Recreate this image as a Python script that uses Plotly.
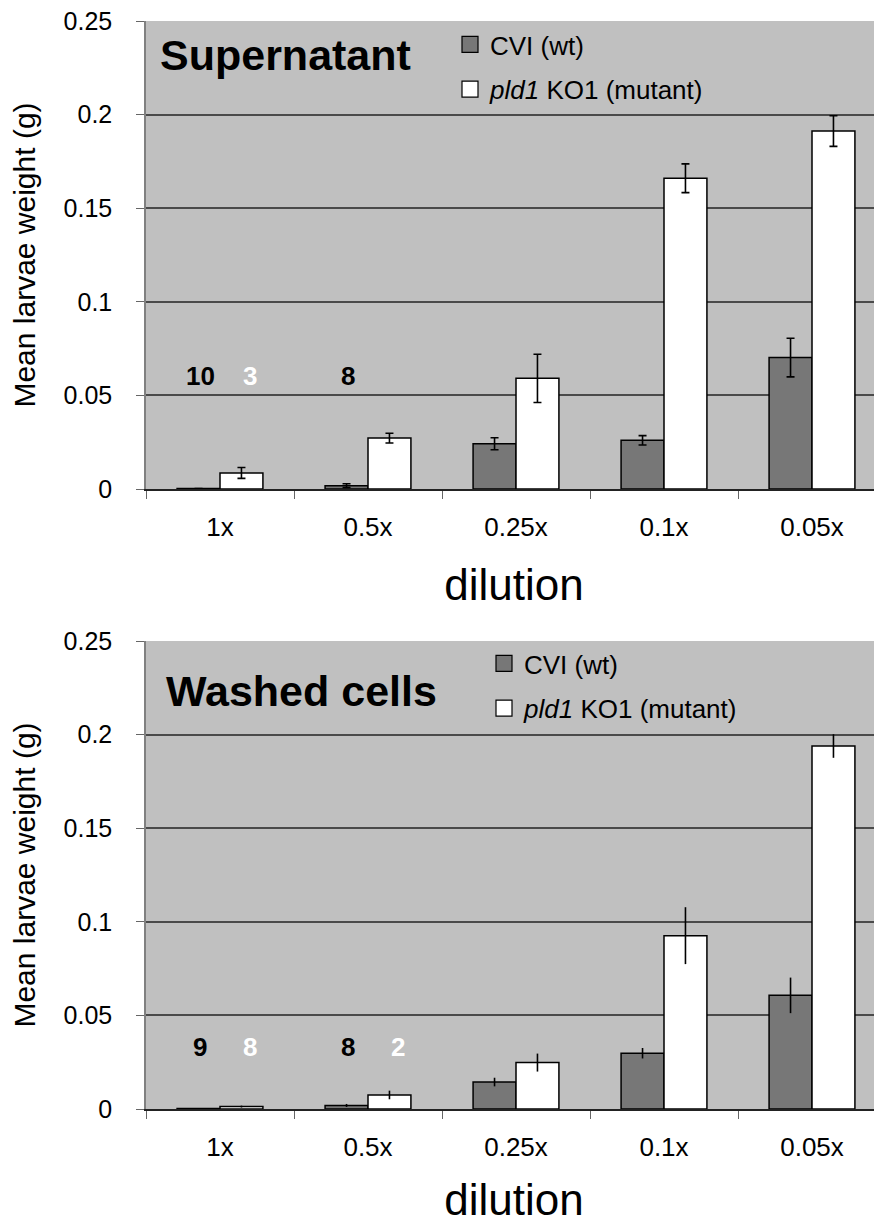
import plotly.graph_objects as go

# ---------------- data ----------------
categories = ["1x", "0.5x", "0.25x", "0.1x", "0.05x"]

sup_wt = [0.0003, 0.0018, 0.0242, 0.0260, 0.0702]
sup_wt_err = [0.0, 0.0010, 0.0032, 0.0025, 0.0103]
sup_mut = [0.0086, 0.0272, 0.0591, 0.1660, 0.1912]
sup_mut_err = [0.0029, 0.0026, 0.0129, 0.0077, 0.0082]

wash_wt = [0.0003, 0.0019, 0.0144, 0.0298, 0.0607]
wash_wt_err = [0.0, 0.0008, 0.0023, 0.0028, 0.0095]
wash_mut = [0.0013, 0.0075, 0.0248, 0.0926, 0.1939]
wash_mut_err = [0.0005, 0.0023, 0.0048, 0.0152, 0.0063]

sup_wt_counts = ["10", "8", "", "", ""]
sup_mut_counts = ["3", "", "", "", ""]
wash_wt_counts = ["9", "8", "", "", ""]
wash_mut_counts = ["8", "2", "", "", ""]
sup_count_y = 0.0605
wash_count_y = 0.033

y_ticks = [0, 0.05, 0.1, 0.15, 0.2, 0.25]
y_tick_labels = ["0", "0.05", "0.1", "0.15", "0.2", "0.25"]

names = ["CVI (wt)", "<i>pld1</i> KO1 (mutant)"]
panel_titles = ["Supernatant", "Washed cells"]

# ---------------- styles ----------------
FONT = "Liberation Sans, Arial, sans-serif"
WT_COLOR = "#777777"
MUT_COLOR = "#FFFFFF"
BG = "#C0C0C0"
GRID = "#4a4a4a"

# page body has an 8px margin; figure sized to fit the 882x1224 window
W, H = 874, 1216

fig = go.Figure()

panels = [
    dict(wt=sup_wt, wte=sup_wt_err, mut=sup_mut, mute=sup_mut_err,
         wtc=sup_wt_counts, mutc=sup_mut_counts, cy=sup_count_y,
         xa="x", ya="y", legend="legend", capw=4),
    dict(wt=wash_wt, wte=wash_wt_err, mut=wash_mut, mute=wash_mut_err,
         wtc=wash_wt_counts, mutc=wash_mut_counts, cy=wash_count_y,
         xa="x2", ya="y2", legend="legend2", capw=0),
]

annotations = []
for i, p in enumerate(panels):
    for vals, errs, col, nm in [(p["wt"], p["wte"], WT_COLOR, names[0]),
                                (p["mut"], p["mute"], MUT_COLOR, names[1])]:
        fig.add_trace(go.Bar(
            x=categories, y=vals, name=nm, showlegend=False,
            marker=dict(color=col, line=dict(color="black", width=1.5)),
            error_y=dict(type="data", array=errs, visible=True,
                         color="black", thickness=1.6, width=p["capw"]),
            xaxis=p["xa"], yaxis=p["ya"], hoverinfo="y",
        ))
    # legend entries
    for col, nm in [(WT_COLOR, names[0]), (MUT_COLOR, names[1])]:
        fig.add_trace(go.Scatter(
            x=[None], y=[None], mode="markers", name=nm,
            marker=dict(symbol="square", size=16, color=col,
                        line=dict(color="black", width=1.2)),
            xaxis=p["xa"], yaxis=p["ya"], legend=p["legend"],
            legendgroup=nm + str(i),
        ))
    xref = p["xa"]
    yref = p["ya"]
    for cat, t in zip(categories, p["wtc"]):
        if t:
            annotations.append(dict(x=cat, y=p["cy"], xref=xref, yref=yref,
                                    text="<b>%s</b>" % t, showarrow=False,
                                    xshift=-20, yanchor="middle",
                                    font=dict(family=FONT, size=26, color="black")))
    for cat, t in zip(categories, p["mutc"]):
        if t:
            annotations.append(dict(x=cat, y=p["cy"], xref=xref, yref=yref,
                                    text="<b>%s</b>" % t, showarrow=False,
                                    xshift=30, yanchor="middle",
                                    font=dict(family=FONT, size=26, color="white")))

# panel titles
annotations.append(dict(x=150 / W, y=1 - 47 / H, xref="paper", yref="paper",
                        text="<b>%s</b>" % panel_titles[0], showarrow=False,
                        xanchor="left", yanchor="middle",
                        font=dict(family=FONT, size=43, color="black")))
annotations.append(dict(x=156 / W, y=1 - 683 / H, xref="paper", yref="paper",
                        text="<b>%s</b>" % panel_titles[1], showarrow=False,
                        xanchor="left", yanchor="middle",
                        font=dict(family=FONT, size=43, color="black")))

x_left = 138 / W
x_range = [-0.5, -0.5 + (W - 138) / 148.0]

def xaxis_cfg(anchor):
    return dict(
        domain=[x_left, 1.0], range=x_range, anchor=anchor, automargin=False,
        type="category", showgrid=False, zeroline=False,
        showline=True, linecolor="#222222", linewidth=1.5,
        ticks="outside", ticklen=8, tickwidth=1, tickcolor="#666666",
        tickson="boundaries", ticklabelstandoff=14,
        ticklabeloverflow="allow",
        tickfont=dict(family=FONT, size=26, color="black"),
        title=dict(text="dilution", standoff=28,
                   font=dict(family=FONT, size=44, color="black")),
        fixedrange=True,
    )

def yaxis_cfg(anchor, dom):
    return dict(
        domain=dom, range=[0, 0.25], anchor=anchor, automargin=False,
        tickvals=y_ticks, ticktext=y_tick_labels,
        showgrid=True, gridcolor=GRID, gridwidth=1.5,
        zeroline=False, showline=True, linecolor="#808080", linewidth=1.5,
        ticks="outside", ticklen=8, tickwidth=1, tickcolor="#666666",
        ticklabelstandoff=19, ticklabeloverflow="allow",
        tickfont=dict(family=FONT, size=25, color="black"),
        title=dict(text="Mean larvae weight (g)", standoff=20,
                   font=dict(family=FONT, size=30, color="black")),
        fixedrange=True,
    )

fig.update_layout(
    width=W, height=H,
    margin=dict(l=0, r=0, t=0, b=0, pad=0, autoexpand=False),
    paper_bgcolor="white", plot_bgcolor=BG,
    barmode="group", bargap=0.42, bargroupgap=0.0,
    xaxis=xaxis_cfg("y"),
    yaxis=yaxis_cfg("x", [1 - 481 / H, 1 - 13 / H]),
    xaxis2=xaxis_cfg("y2"),
    yaxis2=yaxis_cfg("x2", [1 - 1101 / H, 1 - 633 / H]),
    legend=dict(x=442 / W, y=1 - 13 / H, xanchor="left", yanchor="top",
                bgcolor="rgba(0,0,0,0)", tracegroupgap=8,
                font=dict(family=FONT, size=26, color="black")),
    legend2=dict(x=476 / W, y=1 - 632 / H, xanchor="left", yanchor="top",
                 bgcolor="rgba(0,0,0,0)", tracegroupgap=8,
                 font=dict(family=FONT, size=26, color="black")),
    annotations=annotations,
    font=dict(family=FONT),
)

fig.write_html("out.html")
